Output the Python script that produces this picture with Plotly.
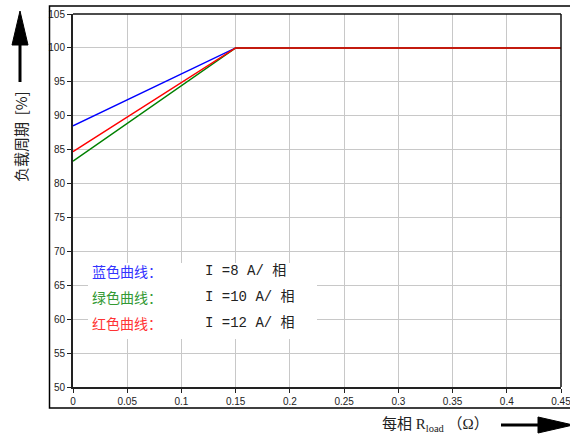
import plotly.graph_objects as go

# ---- data ----
x_vals = [0, 0.15, 0.45]
blue_y = [88.5, 100, 100]
green_y = [83.3, 100, 100]
red_y = [84.7, 100, 100]
series_names = ["蓝色曲线：", "绿色曲线：", "红色曲线："]
series_labels = ["I =8 A/ 相", "I =10 A/ 相", "I =12 A/ 相"]
series_colors = ["#0000ff", "#008000", "#ff0000"]
legend_colors = ["#3333ff", "#339933", "#ff3333"]
x_ticks = [0, 0.05, 0.1, 0.15, 0.2, 0.25, 0.3, 0.35, 0.4, 0.45]
x_ticklabels = ["0", "0.05", "0.1", "0.15", "0.2", "0.25", "0.3", "0.35", "0.4", "0.45"]
y_ticks = [50, 55, 60, 65, 70, 75, 80, 85, 90, 95, 100, 105]

W, H = 570, 439
L, R, T, B = 73, 9, 14, 52
PW, PH = W - L - R, H - T - B


def px(xp):
    return (xp - L) / PW


def py(yp):
    return (H - B - yp) / PH


fig = go.Figure()
for ys, c in zip([blue_y, green_y, red_y], series_colors):
    fig.add_trace(go.Scatter(x=x_vals, y=ys, mode="lines",
                             line=dict(color=c, width=1.5), showlegend=False,
                             hoverinfo="skip"))

tick_font = dict(family="Liberation Sans, Arial, sans-serif", size=10, color="#222")
fig.update_xaxes(range=[0, 0.45], tickvals=x_ticks, ticktext=x_ticklabels,
                 showgrid=True, gridcolor="#c8c8c8", gridwidth=1,
                 showline=True, linecolor="#222", linewidth=2,
                 ticks="outside", ticklen=4, tickcolor="#222", tickfont=tick_font,
                 ticklabeloverflow="allow", automargin=False, zeroline=False)
fig.update_yaxes(range=[50, 105], tickvals=y_ticks,
                 showgrid=True, gridcolor="#c8c8c8", gridwidth=1,
                 showline=True, linecolor="#222", linewidth=2,
                 ticks="outside", ticklen=4, tickcolor="#222", tickfont=tick_font,
                 ticklabeloverflow="allow", automargin=False, zeroline=False)

shapes = []
# top & right borders of plot area
shapes.append(dict(type="line", xref="paper", yref="paper", x0=0, x1=1, y0=1, y1=1,
                   line=dict(color="#111", width=1.5)))
shapes.append(dict(type="line", xref="paper", yref="paper", x0=1, x1=1, y0=0, y1=1,
                   line=dict(color="#111", width=1.5)))
# outer frame
shapes.append(dict(type="rect", xref="paper", yref="paper",
                   x0=px(49.5), x1=px(580), y0=py(408), y1=py(6),
                   line=dict(color="black", width=1.5), fillcolor="rgba(0,0,0,0)"))
# white legend box
shapes.append(dict(type="rect", xref="paper", yref="paper",
                   x0=px(88), x1=px(317), y0=py(339), y1=py(263),
                   line=dict(width=0), fillcolor="white", layer="above"))
# y arrow
shapes.append(dict(type="line", xref="paper", yref="paper",
                   x0=px(20), x1=px(20), y0=py(82), y1=py(40),
                   line=dict(color="black", width=3)))
shapes.append(dict(type="path", xref="paper", yref="paper",
                   path=f"M {px(20)} {py(11)} L {px(12)} {py(45)} L {px(28)} {py(45)} Z",
                   fillcolor="black", line=dict(color="black", width=1)))
# x arrow
shapes.append(dict(type="line", xref="paper", yref="paper",
                   x0=px(501), x1=px(542), y0=py(425), y1=py(425),
                   line=dict(color="black", width=3)))
shapes.append(dict(type="path", xref="paper", yref="paper",
                   path=f"M {px(538)} {py(417)} L {px(573)} {py(425)} L {px(538)} {py(433)} Z",
                   fillcolor="black", line=dict(color="black", width=1)))

cjk = "Noto Sans CJK SC, Liberation Serif, serif"
mono = "Liberation Mono, Noto Sans CJK SC, monospace"
serif = "Liberation Serif, Noto Sans CJK SC, serif"
annotations = []
row_y = [271, 297, 323]
for name, lab, col, yy in zip(series_names, series_labels, legend_colors, row_y):
    annotations.append(dict(xref="paper", yref="paper", x=px(90), y=py(yy),
                            xanchor="left", yanchor="middle", showarrow=False,
                            text=name, font=dict(family=cjk, size=14, color=col)))
    annotations.append(dict(xref="paper", yref="paper", x=px(203), y=py(yy),
                            xanchor="left", yanchor="middle", showarrow=False,
                            text=lab, font=dict(family=mono, size=14, color="#222")))
annotations.append(dict(xref="paper", yref="paper", x=px(20), y=py(137),
                        xanchor="center", yanchor="middle", showarrow=False,
                        textangle=-90, text="负载周期  [%]",
                        font=dict(family=cjk, size=15, color="#222")))
annotations.append(dict(xref="paper", yref="paper", x=px(435), y=py(425),
                        xanchor="center", yanchor="middle", showarrow=False,
                        text="每相 R<sub>load</sub> （Ω）",
                        font=dict(family=serif, size=15, color="#222")))

fig.update_layout(width=W, height=H, margin=dict(l=L, r=R, t=T, b=B, autoexpand=False),
                  paper_bgcolor="white", plot_bgcolor="white",
                  shapes=shapes, annotations=annotations, showlegend=False,
                  hovermode=False)
fig.write_html("out.html", config={"displayModeBar": False, "responsive": False},
               post_script="document.body.style.margin='0';document.body.style.overflow='hidden';")
